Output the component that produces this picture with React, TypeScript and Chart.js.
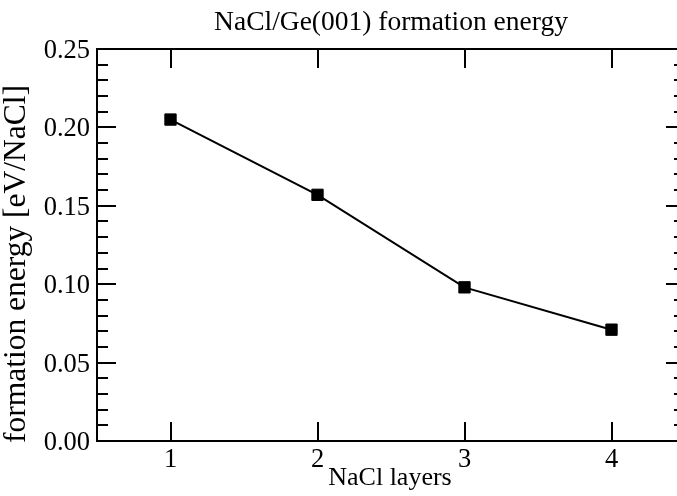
import { useEffect, useRef } from "react";
import { Chart, registerables } from "chart.js";

Chart.register(...registerables);

// NaCl layer count and the computed formation energy per NaCl unit
const layers = [1, 2, 3, 4];
const formationEnergy = [0.205, 0.157, 0.098, 0.071];

// axis settings
const xRange = [0.5, 4.5];
const xTickValues = [1, 2, 3, 4];
const yRange = [0, 0.25];
const yMajorStep = 0.05;
const yMinorStep = 0.01;

const titleText = "NaCl/Ge(001) formation energy";
const xTitleText = "NaCl layers";
const yTitleText = "formation energy [eV/NaCl]";

const FONT = '"Liberation Serif", "Times New Roman", Times, serif';
const CANVAS_W = 700;
const CANVAS_H = 496;
const MAJOR_TICK = 19;
const MINOR_TICK = 11;

function drawText(
  ctx: CanvasRenderingContext2D,
  text: string,
  x: number,
  y: number,
  size: number,
  align: CanvasTextAlign,
  rotate = 0
) {
  ctx.save();
  ctx.translate(x, y);
  if (rotate) ctx.rotate(rotate);
  ctx.font = `${size}px ${FONT}`;
  ctx.fillStyle = "#000";
  ctx.textAlign = align;
  ctx.textBaseline = "alphabetic";
  ctx.fillText(text, 0, 0);
  ctx.restore();
}

// Closed frame with inward ticks on all four sides, tick labels and titles
const framePlugin = {
  id: "gracePlotFrame",
  afterDatasetsDraw(chart: any) {
    const { ctx, chartArea, scales } = chart;
    const { left, right, top, bottom } = chartArea;
    const x = scales.x;
    const y = scales.y;
    ctx.save();
    ctx.strokeStyle = "#000";
    ctx.lineWidth = 2;
    ctx.beginPath();
    ctx.rect(left, top, right - left, bottom - top);
    for (const t of x.ticks) {
      const px = Math.round(x.getPixelForValue(t.value));
      ctx.moveTo(px, bottom);
      ctx.lineTo(px, bottom - MAJOR_TICK);
      ctx.moveTo(px, top);
      ctx.lineTo(px, top + MAJOR_TICK);
    }
    const n = Math.round((y.max - y.min) / yMinorStep);
    const per = Math.round(yMajorStep / yMinorStep);
    for (let i = 0; i <= n; i++) {
      const v = y.min + i * yMinorStep;
      const py = Math.round(y.getPixelForValue(v));
      const len = i % per === 0 ? MAJOR_TICK : MINOR_TICK;
      ctx.moveTo(left, py);
      ctx.lineTo(left + len, py);
      ctx.moveTo(right, py);
      ctx.lineTo(right - len, py);
    }
    ctx.stroke();
    ctx.restore();

    // tick labels
    for (const t of x.ticks) {
      drawText(ctx, String(t.value), x.getPixelForValue(t.value), bottom + 26, 26.5, "center");
    }
    for (const t of y.ticks) {
      drawText(ctx, Number(t.value).toFixed(2), left - 7, y.getPixelForValue(t.value) + 9, 26.5, "right");
    }

    // titles
    drawText(ctx, titleText, (left + right) / 2, 30, 27.5, "center");
    drawText(ctx, xTitleText, (left + right) / 2 - 1, 485, 26, "center");
    drawText(ctx, yTitleText, 25, (top + bottom) / 2 + 19, 31.5, "center", -Math.PI / 2);
  },
};

export default function App() {
  const canvasRef = useRef<HTMLCanvasElement | null>(null);

  useEffect(() => {
    const canvas = canvasRef.current;
    if (!canvas) return;
    const chart = new Chart(canvas, {
      type: "line",
      data: {
        datasets: [
          {
            data: layers.map((l, i) => ({ x: l, y: formationEnergy[i] })),
            borderColor: "#000",
            backgroundColor: "#000",
            borderWidth: 2,
            pointStyle: "rect",
            pointRadius: 8,
            pointBorderWidth: 1,
            pointBorderColor: "#000",
            pointBackgroundColor: "#000",
            tension: 0,
            fill: false,
          },
        ],
      },
      options: {
        responsive: false,
        animation: false,
        devicePixelRatio: 1,
        layout: { padding: { left: 0, right: CANVAS_W - 685, top: 49, bottom: 0 } },
        plugins: {
          legend: { display: false },
          tooltip: { enabled: false },
          title: { display: false },
        },
        scales: {
          x: {
            type: "linear",
            min: xRange[0],
            max: xRange[1],
            grid: { display: false },
            border: { display: false },
            afterBuildTicks: (s: any) => {
              s.ticks = xTickValues.map((v) => ({ value: v }));
            },
            afterFit: (s: any) => {
              s.height = 55;
            },
            ticks: { display: false },
          },
          y: {
            type: "linear",
            min: yRange[0],
            max: yRange[1],
            grid: { display: false },
            border: { display: false },
            afterFit: (s: any) => {
              s.width = 97;
            },
            ticks: { display: false, stepSize: yMajorStep },
          },
        },
      },
      plugins: [framePlugin],
    });
    return () => chart.destroy();
  }, []);

  return (
    <div
      style={{
        position: "fixed",
        left: 0,
        top: 0,
        width: 677,
        height: 496,
        overflow: "hidden",
        background: "#fff",
      }}
    >
      <canvas
        ref={canvasRef}
        width={CANVAS_W}
        height={CANVAS_H}
        style={{ width: CANVAS_W, height: CANVAS_H, display: "block" }}
      />
    </div>
  );
}
